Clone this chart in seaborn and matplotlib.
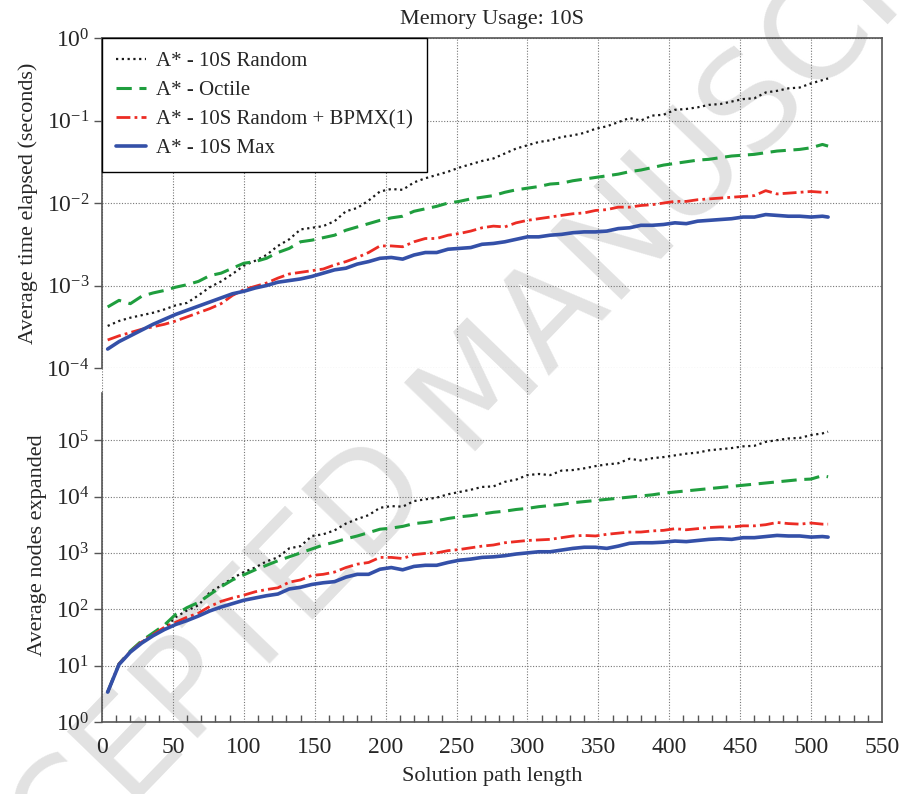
#!/usr/bin/env python3
"""Memory Usage: 10S - time elapsed and nodes expanded vs solution path length."""

import numpy as np
import pandas as pd
import matplotlib
matplotlib.use("Agg")
import matplotlib.pyplot as plt
import matplotlib.ticker as mticker
import seaborn as sns

# Solution path length (x)
PATH_LEN = [4, 12, 20, 28, 36, 44, 52, 60, 68, 76, 84, 92, 100, 108, 116, 124,
            132, 140, 148, 156, 164, 172, 180, 188, 196, 204, 212, 220, 228, 236,
            244, 252, 260, 268, 276, 284, 292, 300, 308, 316, 324, 332, 340, 348,
            356, 364, 372, 380, 388, 396, 404, 412, 420, 428, 436, 444, 452, 460,
            468, 476, 484, 492, 500, 508, 512]

# log10 of average time elapsed (seconds)
TIME_RANDOM = [-3.49, -3.43, -3.39, -3.36, -3.33, -3.29, -3.24, -3.21, -3.12, -3.02,
               -2.95, -2.86, -2.76, -2.70, -2.63, -2.52, -2.44, -2.32, -2.30, -2.28,
               -2.22, -2.10, -2.06, -1.97, -1.86, -1.83, -1.84, -1.75, -1.70, -1.66,
               -1.62, -1.57, -1.53, -1.49, -1.46, -1.40, -1.34, -1.30, -1.26, -1.24,
               -1.20, -1.18, -1.15, -1.10, -1.07, -1.02, -0.97, -1.00, -0.94, -0.93,
               -0.87, -0.86, -0.84, -0.81, -0.80, -0.77, -0.74, -0.73, -0.66, -0.64,
               -0.61, -0.60, -0.55, -0.51, -0.49]
TIME_OCTILE = [-3.26, -3.18, -3.22, -3.13, -3.09, -3.06, -3.02, -2.99, -2.95, -2.88,
               -2.85, -2.79, -2.73, -2.71, -2.67, -2.60, -2.55, -2.47, -2.45, -2.42,
               -2.39, -2.33, -2.29, -2.25, -2.21, -2.18, -2.16, -2.10, -2.07, -2.04,
               -2.00, -1.98, -1.95, -1.93, -1.91, -1.87, -1.84, -1.82, -1.80, -1.77,
               -1.76, -1.73, -1.71, -1.69, -1.67, -1.65, -1.62, -1.60, -1.57, -1.54,
               -1.52, -1.50, -1.48, -1.47, -1.45, -1.43, -1.42, -1.41, -1.39, -1.37,
               -1.36, -1.35, -1.33, -1.29, -1.31]
TIME_BPMX = [-3.66, -3.61, -3.57, -3.53, -3.50, -3.47, -3.43, -3.38, -3.33, -3.28,
             -3.22, -3.12, -3.05, -3.01, -2.97, -2.91, -2.86, -2.84, -2.82, -2.80,
             -2.75, -2.71, -2.66, -2.60, -2.52, -2.52, -2.53, -2.47, -2.43, -2.43,
             -2.39, -2.37, -2.34, -2.30, -2.28, -2.29, -2.24, -2.21, -2.19, -2.17,
             -2.15, -2.13, -2.12, -2.09, -2.08, -2.05, -2.05, -2.03, -2.02, -2.00,
             -1.98, -1.98, -1.96, -1.95, -1.94, -1.93, -1.92, -1.91, -1.85, -1.89,
             -1.88, -1.87, -1.86, -1.87, -1.87]
TIME_MAX = [-3.77, -3.68, -3.61, -3.54, -3.47, -3.41, -3.35, -3.30, -3.25, -3.20,
            -3.15, -3.10, -3.07, -3.03, -3.00, -2.96, -2.94, -2.92, -2.89, -2.85,
            -2.81, -2.79, -2.74, -2.71, -2.67, -2.66, -2.68, -2.63, -2.60, -2.60,
            -2.56, -2.55, -2.54, -2.50, -2.49, -2.47, -2.44, -2.41, -2.41, -2.39,
            -2.38, -2.36, -2.35, -2.35, -2.34, -2.31, -2.30, -2.27, -2.27, -2.26,
            -2.24, -2.25, -2.22, -2.21, -2.20, -2.19, -2.17, -2.17, -2.14, -2.15,
            -2.16, -2.16, -2.17, -2.16, -2.17]

# log10 of average nodes expanded
NODES_RANDOM = [0.53, 1.02, 1.25, 1.42, 1.55, 1.66, 1.86, 1.98, 2.07, 2.30,
                2.42, 2.55, 2.66, 2.74, 2.85, 2.92, 3.08, 3.12, 3.30, 3.33,
                3.40, 3.52, 3.60, 3.67, 3.80, 3.83, 3.82, 3.92, 3.95, 3.98,
                4.04, 4.08, 4.12, 4.17, 4.18, 4.26, 4.30, 4.38, 4.40, 4.38,
                4.46, 4.47, 4.50, 4.54, 4.57, 4.59, 4.67, 4.64, 4.68, 4.70,
                4.73, 4.76, 4.78, 4.82, 4.84, 4.86, 4.89, 4.90, 4.97, 5.00,
                5.03, 5.04, 5.09, 5.12, 5.15]
NODES_OCTILE = [0.53, 1.03, 1.26, 1.44, 1.58, 1.72, 1.91, 2.03, 2.12, 2.26,
                2.40, 2.52, 2.61, 2.70, 2.78, 2.86, 2.93, 3.00, 3.07, 3.14,
                3.19, 3.25, 3.30, 3.36, 3.42, 3.44, 3.47, 3.52, 3.54, 3.57,
                3.61, 3.64, 3.66, 3.69, 3.72, 3.74, 3.77, 3.79, 3.82, 3.84,
                3.86, 3.89, 3.91, 3.93, 3.95, 3.97, 3.99, 4.01, 4.03, 4.06,
                4.08, 4.10, 4.12, 4.14, 4.16, 4.18, 4.20, 4.22, 4.24, 4.26,
                4.28, 4.30, 4.31, 4.37, 4.35]
NODES_BPMX = [0.53, 1.03, 1.25, 1.42, 1.55, 1.68, 1.77, 1.86, 1.93, 2.05,
              2.14, 2.20, 2.25, 2.31, 2.35, 2.38, 2.48, 2.52, 2.60, 2.62,
              2.66, 2.74, 2.80, 2.83, 2.92, 2.92, 2.90, 2.97, 2.99, 3.00,
              3.04, 3.06, 3.09, 3.12, 3.14, 3.18, 3.20, 3.22, 3.23, 3.24,
              3.27, 3.30, 3.31, 3.30, 3.33, 3.35, 3.37, 3.37, 3.39, 3.40,
              3.43, 3.41, 3.43, 3.45, 3.46, 3.46, 3.48, 3.48, 3.50, 3.54,
              3.52, 3.51, 3.53, 3.51, 3.51]
NODES_MAX = [0.53, 1.02, 1.24, 1.40, 1.53, 1.64, 1.73, 1.80, 1.88, 1.97,
             2.04, 2.10, 2.16, 2.20, 2.24, 2.27, 2.36, 2.39, 2.44, 2.47,
             2.49, 2.57, 2.62, 2.62, 2.71, 2.74, 2.70, 2.76, 2.78, 2.78,
             2.83, 2.87, 2.89, 2.92, 2.93, 2.95, 2.98, 3.00, 3.02, 3.02,
             3.05, 3.08, 3.10, 3.10, 3.08, 3.12, 3.17, 3.18, 3.18, 3.19,
             3.21, 3.20, 3.22, 3.24, 3.25, 3.24, 3.27, 3.27, 3.29, 3.31,
             3.30, 3.30, 3.28, 3.29, 3.28]

LABELS = ["A* - 10S Random", "A* - Octile", "A* - 10S Random + BPMX(1)", "A* - 10S Max"]
COLORS = ["#1a1a1a", "#1f9e3e", "#ec2c24", "#3450a8"]
STYLES = [(0, (1, 1.6)), (0, (5, 2.5)), (0, (5, 1.5, 1, 1.5)), "-"]
WIDTHS = [1.6, 2.2, 2.0, 2.6]

TIME_TICKS = [1e-4, 1e-3, 1e-2, 1e-1, 1e0]
NODE_TICKS = [1e0, 1e1, 1e2, 1e3, 1e4, 1e5]

FONT = "Liberation Serif"


def main():
    sns.set_style("white")
    plt.rcParams["font.family"] = [FONT, "DejaVu Serif"]
    plt.rcParams["mathtext.fontset"] = "custom"
    plt.rcParams["mathtext.rm"] = FONT
    plt.rcParams["mathtext.it"] = FONT + ":italic"
    plt.rcParams["axes.unicode_minus"] = False

    fig = plt.figure(figsize=(9.01, 7.94), dpi=100)
    ax_t = fig.add_axes([0.1132, 0.5365, 0.8657, 0.4156])
    ax_b = fig.add_axes([0.1132, 0.0907, 0.8657, 0.4458])

    time_df = pd.DataFrame({"x": PATH_LEN})
    node_df = pd.DataFrame({"x": PATH_LEN})
    for lab, t, n in zip(LABELS, [TIME_RANDOM, TIME_OCTILE, TIME_BPMX, TIME_MAX],
                         [NODES_RANDOM, NODES_OCTILE, NODES_BPMX, NODES_MAX]):
        time_df[lab] = np.power(10.0, t)
        node_df[lab] = np.power(10.0, n)

    for lab, c, ls, lw in zip(LABELS, COLORS, STYLES, WIDTHS):
        sns.lineplot(data=time_df, x="x", y=lab, ax=ax_t, color=c, linestyle=ls,
                     linewidth=lw, label=lab)
        sns.lineplot(data=node_df, x="x", y=lab, ax=ax_b, color=c, linestyle=ls,
                     linewidth=lw, legend=False)

    for ax, ticks in ((ax_t, TIME_TICKS), (ax_b, NODE_TICKS)):
        ax.set_yscale("log")
        ax.set_xlim(0, 550)
        ax.xaxis.set_major_locator(mticker.MultipleLocator(50))
        ax.xaxis.set_minor_locator(mticker.MultipleLocator(10))
        ax.yaxis.set_major_locator(mticker.FixedLocator(ticks))
        ax.yaxis.set_major_formatter(mticker.LogFormatterSciNotation())
        ax.yaxis.set_minor_locator(mticker.NullLocator())
        ax.grid(True, which="major", color="#777777", linestyle=(0, (1, 1.5)),
                linewidth=0.8)
        ax.set_facecolor("none")
        for s in ax.spines.values():
            s.set_color("#555555")
            s.set_linewidth(1.2)
        ax.tick_params(axis="y", which="major", direction="out", length=6,
                       width=1, color="#555555", labelsize=17, pad=3, left=True)
        ax.tick_params(axis="x", which="major", direction="out", length=7,
                       width=1, color="#555555", labelsize=17, pad=4)
        ax.tick_params(axis="x", which="minor", direction="in", length=5,
                       width=1, color="#555555", bottom=True)

    ax_t.set_ylim(1e-4, 1e0)
    ax_t.spines["bottom"].set_visible(False)
    ax_t.tick_params(axis="x", which="both", bottom=False, labelbottom=False)
    ax_t.set_xlabel("")
    ax_t.set_ylabel("Average time elapsed (seconds)", fontsize=16, labelpad=6)
    ax_t.set_title("Memory Usage: 10S", fontsize=16, pad=10)

    ax_b.set_ylim(1e0, 10 ** 6.28)
    ax_b.spines["top"].set_visible(False)
    ax_b.spines["left"].set_bounds(1e0, 10 ** 5.83)
    ax_b.set_xlabel("Solution path length", fontsize=16, labelpad=6)
    ax_b.set_ylabel("Average nodes expanded", fontsize=16, labelpad=6)

    leg = ax_t.legend(loc="upper left", fontsize=15, frameon=True, fancybox=False,
                      edgecolor="black", framealpha=1, borderaxespad=0,
                      handlelength=1.45, handletextpad=0.5, labelspacing=0.45,
                      borderpad=0.65)
    leg.get_frame().set_linewidth(1.0)

    # watermark
    fig.text(0.537, 0.51, "ACCEPTED MANUSCRIPT", fontsize=98, color="#e2e2e2",
             family="DejaVu Sans", rotation=46, ha="center", va="center",
             zorder=-5)

    fig.savefig("out.png", dpi=100, facecolor="white")
    plt.close(fig)


if __name__ == "__main__":
    main()
